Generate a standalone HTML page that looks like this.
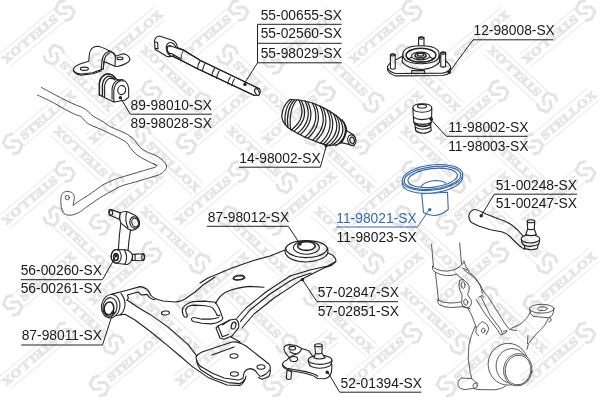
<!DOCTYPE html>
<html><head><meta charset="utf-8"><title>diagram</title>
<style>
html,body{margin:0;padding:0;background:#fff}
svg{display:block}
.wm path{fill:none;stroke:#e9e9e9;stroke-width:1}
.wm path.lg{stroke:#e4e4e4;stroke-width:3;stroke-linejoin:miter}
.wm text{font-family:"Liberation Serif",serif;font-weight:bold;font-size:11.5px;fill:#e5e5e5;stroke:#e5e5e5;stroke-width:.9;stroke-linejoin:round;letter-spacing:0}
.p *{vector-effect:non-scaling-stroke}
.p{fill:none;stroke:#222;stroke-width:1.1;stroke-linecap:round;stroke-linejoin:round}
.p .w{fill:#fff}
.p .t{stroke:#333;stroke-width:.85}
.p .k{stroke:#3c3c3c;stroke-width:.85}
.ld{fill:none;stroke:#222;stroke-width:1}
.bl{stroke:#356bb3}
.lab text{font-family:"Liberation Sans",sans-serif;font-size:13.8px;fill:#1a1a1a}
.lab text.b{fill:#356bb3}
</style></head><body>
<svg width="600" height="400" viewBox="0 0 600 400">
<rect width="600" height="400" fill="#fff"/>
<g class="p">
<!-- stab bar: image coords -->
<g class="t">
<path d="M41.4 87.5C43.9 88.8 50.9 92.6 56.2 95.4C61.6 98.2 69.4 102.1 73.8 104.1C78.1 106.1 80.2 106.4 82.5 107.6C84.8 108.8 86.3 109.9 87.8 111.1C89.2 112.3 89.8 113.4 91.2 114.6C92.7 115.8 94.5 116.9 96.5 118.1C98.5 119.3 101.1 120.5 103.5 122.0C105.9 123.5 107.4 125.2 111.0 127.0C114.6 128.8 121.2 131.1 125.0 133.1C128.8 135.1 131.4 137.1 133.8 139.2C136.1 141.4 137.0 144.2 139.0 146.2C141.0 148.3 143.1 149.9 146.0 151.5C148.9 153.1 153.6 154.3 156.5 155.9C159.4 157.5 161.8 159.4 163.5 161.1C165.2 162.8 166.3 164.4 166.5 166.0C166.7 167.6 165.9 169.2 164.7 170.7C163.5 172.1 162.0 173.5 159.3 174.7C156.6 175.9 152.7 176.8 148.7 178.0C144.7 179.2 139.8 180.7 135.3 182.0C130.9 183.3 125.6 184.5 122.0 185.8C118.4 187.1 117.3 188.0 113.7 190.0C110.1 192.0 104.8 194.8 100.3 197.6C95.8 200.4 90.5 204.3 86.9 206.8C83.3 209.3 81.3 211.3 78.5 212.7C75.7 214.1 72.5 215.1 70.1 215.2C67.7 215.3 65.7 214.8 64.2 213.5C62.8 212.2 62.0 210.1 61.4 207.6C60.8 205.1 60.7 200.8 60.9 198.4C61.1 196.0 61.6 194.6 62.6 193.4C63.6 192.2 65.3 191.5 66.8 191.4C68.3 191.3 70.5 191.7 71.8 192.6C73.0 193.5 74.1 194.7 74.3 196.8C74.5 198.9 73.3 203.7 73.1 205.1"/>
<path d="M37.4 95.0C39.6 96.1 46.4 99.1 51.0 101.5C55.6 103.9 60.9 107.2 65.0 109.4C69.1 111.6 72.9 113.4 75.5 114.6C78.1 115.8 79.3 115.5 80.8 116.4C82.2 117.3 83.1 118.7 84.2 119.9C85.4 121.1 86.3 122.4 87.8 123.4C89.2 124.4 90.3 124.8 93.0 126.0C95.7 127.2 99.8 128.9 104.0 130.8C108.2 132.7 114.2 135.5 118.0 137.5C121.8 139.5 124.6 140.8 126.8 142.8C128.9 144.7 129.3 146.9 131.1 148.9C132.8 150.9 134.8 153.1 137.2 155.0C139.7 156.9 143.1 158.7 146.0 160.2C148.9 161.8 153.1 163.6 154.8 164.6C156.4 165.6 156.0 166.0 156.2 166.3"/>
<path d="M155.3 167.2C153.3 167.8 147.5 169.4 143.3 170.7C139.1 171.9 134.4 173.4 130.0 174.7C125.6 176.0 120.7 177.3 116.7 178.7C112.7 180.1 108.7 182.0 106.0 183.3C103.3 184.6 103.2 184.7 100.3 186.7C97.4 188.7 92.0 192.7 88.5 195.1C85.0 197.5 81.8 199.2 79.3 200.9C76.8 202.6 74.5 204.4 73.5 205.1"/>
<path d="M153.5 163.6L157.2 165.6"/>
<ellipse cx="67.300" cy="197.600" rx="2" ry="2.300"/>
</g>
<!-- bracket: view [65,40] k=.125 -->
<g transform="translate(65 40) scale(.125)">
<path class="w" d="M290 237L220 262L130 272Q80 270 66 240Q68 212 120 192L190 170L196 108Q205 55 255 50Q290 52 345 82Q395 100 403 130L465 110Q515 118 520 158Q505 192 420 212L400 210L312 172L306 232Z"/>
<path d="M290 237L296 165Q305 105 350 92Q398 95 403 132L400 210"/>
<path d="M306 232L312 170Q322 118 356 104"/>
<path d="M70 250Q88 278 132 281L224 270L292 246"/>
<ellipse cx="155" cy="230" rx="32" ry="13"/><ellipse cx="440" cy="147" rx="24" ry="11"/>
</g>
<!-- bushing: view [95,70] k=.0875 -->
<g transform="translate(95 70) scale(.0875)">
<path class="w" d="M50 285L50 150Q58 70 140 42Q205 45 240 102Q262 112 290 122L340 124Q378 150 385 220L385 310L340 346L215 366L90 306Z"/>
<path d="M85 300L85 165Q95 95 150 70Q200 72 226 112" style="stroke-width:1.4"/>
<path d="M50 285L50 150Q58 70 140 42Q205 45 240 102" style="stroke-width:1.4"/>
<path d="M110 308L110 180Q120 118 162 96Q200 94 222 104"/>
<path d="M195 332L195 215Q205 140 262 114Q300 106 322 112"/>
<path d="M215 366L215 235Q225 150 288 124"/>
<ellipse cx="305" cy="230" rx="45" ry="52" transform="rotate(8 305 230)"/>
<circle cx="290" cy="316" r="19" fill="#222" stroke="none"/>
</g>
<!-- tie rod: view [150,25] k=.2 -->
<g transform="translate(150 25) scale(.2)">
<path class="w" d="M110 104L165 124L250 176L548 320Q556 335 545 350L522 352L235 217L150 174L100 150Z"/>
<path d="M110 104L165 124L250 176L545 318M100 150L150 174L235 217L522 352"/>
<ellipse class="w" cx="535" cy="335" rx="10" ry="18" transform="rotate(-25 535 335)"/>
<path d="M167 126Q152 150 154 176M252 178Q238 196 238 217M276 191Q264 210 262 230M322 218Q310 237 309 254M346 230Q334 250 333 267M402 260Q390 278 389 294M422 270Q410 288 410 304"/>
<circle cx="475" cy="297" r="8.5" fill="#222" stroke="none"/>
</g>
<!-- tie rod head: view [150,30] k=.1 -->
<g transform="translate(150 30) scale(.1)">
<path class="w" d="M95 60Q50 70 45 108L50 188Q55 205 85 212L165 262Q215 278 262 240Q290 190 262 135Q245 110 230 105Z"/>
<ellipse cx="215" cy="195" rx="50" ry="72" transform="rotate(-20 215 195)"/>
<ellipse class="w" cx="199" cy="197" rx="27" ry="40" transform="rotate(-15 199 197)" style="stroke-width:1.4"/>
<path d="M55 120L76 125L80 190L55 184"/>
<path class="w" d="M215 163L330 203L300 285L215 236Q190 200 215 163Z" style="stroke:none"/>
<path d="M215 163L330 203M215 236L300 285"/>
</g>
<!-- boot: view [275,92] k=.15 -->
<g transform="translate(275 92) scale(.15)" style="stroke-width:1.2">
<path class="w" d="M100 50Q200 48 300 94Q400 140 460 204Q478 228 478 258L520 283Q552 320 525 357L445 338Q400 362 340 353Q200 312 90 240Q45 200 45 160Q50 90 100 50Z"/>
<path d="M114 51Q56 110 68 218M130 52Q72 112 86 236M146 53Q90 116 104 250"/>
<path d="M158 52Q220 168 108 255M176 60Q236 173 128 261M200 58Q262 182 150 277M218 66Q278 187 170 283M250 73Q312 202 200 301M268 81Q328 207 220 307M300 94Q362 223 250 323M318 102Q378 228 270 329M345 118Q407 245 300 343M363 126Q423 250 320 349M390 147Q452 265 340 353M408 155Q468 270 360 359M430 177Q492 280 385 353M448 185Q508 285 405 359"/>
<path d="M460 204Q492 262 440 336M478 258Q470 300 445 338"/>
<ellipse class="w" cx="512" cy="321" rx="27" ry="36" transform="rotate(-12 512 321)"/>
<ellipse cx="514" cy="322" rx="15" ry="22" transform="rotate(-12 514 322)"/>
<circle cx="341" cy="358" r="11" fill="#222" stroke="none"/>
</g>
<!-- strut mount: view [385,32] k=.12 -->
<g transform="translate(385 32) scale(.12)">
<path class="w" d="M20 292Q30 262 75 240L150 200L450 200L500 238Q545 270 548 300Q548 335 520 352L480 362L90 366Q35 352 22 318Z"/>
<path d="M22 300Q35 335 92 346L480 343Q530 335 546 298"/>
<path class="w" d="M222 322H330V345H222Z"/>
<path class="w" d="M45 305V190Q65 176 85 190V305Q65 316 45 305Z"/><ellipse cx="65" cy="190" rx="20" ry="9"/>
<path class="w" d="M280 120V50Q302 36 325 50V120Z"/><ellipse cx="302.500" cy="50" rx="22.500" ry="9"/>
<path class="w" d="M465 288V175Q485 162 505 175V288Q485 298 465 288Z"/><ellipse cx="485" cy="175" rx="20" ry="9"/>
<path class="w" d="M148 190Q150 115 300 115Q452 115 452 190L455 252Q400 312 300 312Q200 312 142 252Z"/>
<path d="M148 190Q152 262 300 265Q450 262 452 190"/>
<ellipse cx="300" cy="193" rx="124" ry="58" style="stroke-width:1.5"/>
<path d="M188 215Q215 252 300 252Q385 252 410 215"/>
<ellipse cx="296" cy="200" rx="76" ry="32"/>
<ellipse cx="296" cy="194" rx="46" ry="18"/>
<ellipse cx="296" cy="190" rx="29" ry="11"/>
<path d="M250 196V206Q270 226 296 226Q325 226 342 206V196M192 226L224 208M400 222L370 206"/>
<circle cx="535" cy="336" r="14.2" fill="#222" stroke="none"/>
</g>
<!-- bump stop: view [405,98] k=.1 -->
<g transform="translate(405 98) scale(.1)">
<path class="w" d="M78 100Q80 58 170 58Q266 58 268 100L266 192L262 245L256 262L258 292L262 325Q230 352 180 352Q130 350 106 325L103 292L100 262L88 245L84 192Z"/>
<path d="M78 100Q85 140 170 142Q262 140 268 100"/>
<ellipse cx="170" cy="82" rx="45" ry="18"/>
<path d="M84 192Q120 216 170 216Q230 214 266 192M88 245Q120 264 172 264Q235 262 262 243M103 292Q135 312 178 312Q232 310 258 292"/>
<path d="M100 262Q130 284 175 284Q230 282 256 262" style="stroke-width:1.6"/>
<circle cx="263" cy="212" r="17.0" fill="#222" stroke="none"/>
</g>
<!-- spring seat: view [395,160] k=.15 -->
<g transform="translate(395 160) scale(.15)" style="stroke:#3468b0">
<path class="w" d="M178 225L190 350Q270 398 355 330L350 215Z"/>
<ellipse class="w" cx="250" cy="135" rx="203" ry="84" transform="rotate(-7 250 135)"/>
<ellipse class="w" cx="250" cy="117" rx="203" ry="84" transform="rotate(-7 250 117)"/>
<ellipse cx="250" cy="119" rx="190" ry="74" transform="rotate(-7 250 119)"/>
<ellipse cx="251" cy="119" rx="166" ry="62" transform="rotate(-7 251 119)"/>
<path d="M172 178Q195 145 270 137Q320 138 338 155"/>
<circle cx="232" cy="331" r="11.3" fill="#3468b0" stroke="none"/>
</g>
<!-- tie rod end: view [465,205] k=.15 -->
<g transform="translate(465 205) scale(.15)">
<path class="w" d="M60 30Q80 28 140 60L230 95Q300 115 350 165L385 205L400 296L380 285Q350 262 300 210Q280 190 250 180L170 165L90 140L40 115Q18 85 30 55Q40 35 60 30Z"/>
<path class="w" d="M376 236Q380 262 395 268L400 290Q440 306 482 290L488 264Q498 255 498 232Z"/>
<path d="M395 268Q440 285 488 264"/>
<ellipse class="w" cx="436" cy="226" rx="62" ry="27"/>
<path class="w" d="M415 110L418 160Q412 180 404 196Q440 212 476 196Q468 180 462 160L465 110Z"/>
<ellipse class="w" cx="440" cy="108" rx="25" ry="10"/>
<path d="M418 160Q440 168 462 160"/>
<circle cx="108" cy="72" r="11.3" fill="#222" stroke="none"/>
</g>
<!-- stab link: view [100,205] k=.1625 -->
<g transform="translate(100 205) scale(.1625)">
<path class="w" d="M66 27L128 50L118 88L58 62Q52 40 66 27Z"/>
<ellipse cx="66" cy="45" rx="11" ry="18" transform="rotate(-20 66 45)"/>
<path class="w" d="M200 304L266 300Q278 320 268 340L200 342Z"/>
<ellipse cx="266" cy="320" rx="9" ry="20"/>
<path d="M216 303V341"/>
<path class="w" d="M130 100L120 180L113 275L172 290L177 230L188 150Z"/>
<path class="w" d="M125 50Q145 36 170 42L218 64Q245 85 243 122Q232 152 195 156Q170 150 160 138L128 110Q115 80 125 50Z"/>
<ellipse cx="213" cy="108" rx="29" ry="36" transform="rotate(-15 213 108)"/>
<ellipse cx="216" cy="108" rx="20" ry="27" transform="rotate(-15 216 108)"/>
<path d="M165 44Q150 90 172 140"/>
<path class="w" d="M100 274L160 275Q196 285 200 312Q200 350 170 366L108 360Q68 350 68 315Q72 280 100 274Z"/>
<ellipse cx="100" cy="316" rx="31" ry="42"/>
<ellipse cx="98" cy="320" rx="14" ry="22" style="stroke-width:1.6"/>
<path d="M150 276Q176 320 152 364"/>
<circle cx="99" cy="312" r="9" fill="#222" stroke="none"/>
</g>
<!-- control arm front: view [95,275] k=.2 -->
<g transform="translate(95 275) scale(.2)">
<path d="M80 97L160 76L225 58Q262 60 278 100Q290 118 340 130L400 135Q430 132 450 120L500 85L540 50L600 10"/>
<path d="M160 127L167 115L162 100L215 85L232 100L260 97L272 112"/>
<path d="M130 92Q152 120 150 150Q146 185 125 200L150 196L200 225L275 281L362 352L425 405"/>
<path d="M85 205L125 200"/>
<path d="M162 126L220 165L275 197L362 258L425 312"/>
<path d="M272 112Q288 124 300 124"/>
<ellipse class="w" cx="78.5" cy="156" rx="46" ry="59" transform="rotate(8 78.5 156)"/>
<ellipse cx="75" cy="160" rx="35" ry="47" transform="rotate(8 75 160)"/>
<ellipse cx="70" cy="167" rx="24" ry="32" transform="rotate(8 70 167)" style="stroke-width:1.6"/>
<ellipse cx="352" cy="190" rx="20" ry="10" transform="rotate(-5 352 190)"/>
<circle cx="90" cy="187" r="8.5" fill="#222" stroke="none"/>
</g>
<!-- control arm middle: view [170,270] k=.2 -->
<g transform="translate(170 270) scale(.2)">
<ellipse cx="345" cy="40" rx="30" ry="10" transform="rotate(-5 345 40)"/>
<path d="M228 168Q245 130 280 110Q330 88 400 82L470 86"/>
<path d="M600 30L480 110L380 190L335 240M600 55L500 120L400 200L352 258M600 88L520 140L420 220L360 290"/>
<path class="w" d="M300 250L330 245Q348 262 343 288L310 330L270 346L250 340L230 290L240 280Z"/>
<ellipse cx="318" cy="278" rx="11" ry="18" transform="rotate(15 318 278)"/>
<path d="M240 280L262 334L292 322M300 250L262 275"/>
</g>
<!-- control arm rear: view [240,240] k=.2 -->
<g transform="translate(240 240) scale(.2)">
<path d="M232 48L150 80L60 105L-40 140L-160 190L-200 215"/>
<path d="M440 65Q478 78 480 105Q472 125 425 137"/>
<path d="M460 125L350 150L250 180M355 165L280 190L250 205M478 108L420 140L320 190L250 238"/>
<path class="w" d="M225 55Q228 5 330 3Q438 5 440 55Q440 100 330 110Q230 105 225 55Z"/>
<path d="M226 40Q240 85 330 88Q425 85 439 40"/>
<ellipse cx="332" cy="38" rx="65" ry="33"/>
<ellipse cx="332" cy="30" rx="44" ry="22" style="stroke-width:1.6"/>
<ellipse cx="-5" cy="187" rx="26" ry="11" transform="rotate(-8 -5 187)"/>
<path d="M0 240L60 235L112 229" style="stroke:none"/>
<circle cx="312" cy="198" r="8.5" fill="#222" stroke="none"/>
<circle cx="300" cy="20" r="8.5" fill="#222" stroke="none"/>
</g>
<!-- control arm plate: view [180,320] k=.2 -->
<g transform="translate(180 320) scale(.2)">
<path d="M0 88L40 122L85 182"/>
<path d="M0 180L60 232L140 287L235 325L300 327Q325 315 330 280"/>
<path class="w" d="M80 185Q90 168 110 160L200 130L260 110Q290 105 330 130L400 185L445 220Q455 235 450 248L430 270Q410 285 398 280L385 265Q375 245 350 243Q325 248 320 266L315 290Q305 300 290 300L220 290L160 265L100 230Q82 210 80 185Z"/>
<path d="M82 200Q88 232 105 250L170 290L240 313L300 318Q318 312 322 296M452 250Q452 275 440 285L410 296L392 288"/>
<ellipse cx="270" cy="180" rx="20" ry="11"/><ellipse cx="405" cy="235" rx="20" ry="11"/><ellipse cx="272" cy="270" rx="20" ry="11"/>
<path d="M160 175L270 135"/>
<path d="M255 85L300 110"/>
</g>
<!-- c-clip: view [175,290] k=.11667 -->
<g transform="translate(175 290) scale(.11667)">
<path d="M345 105L250 95L150 100Q95 115 70 150Q55 180 70 215Q82 240 100 232Q112 222 98 200Q82 165 110 142Q140 130 170 130L260 135Q305 140 325 155Q345 180 360 215"/>
<path d="M360 215Q380 225 385 215M140 246Q150 232 165 236L230 250L300 250Q345 246 372 235M140 246Q140 262 158 270L230 285L310 290Q355 285 382 270Q405 258 410 245L395 200L375 150L345 105"/>
</g>
<!-- ball joint: view [275,335] k=.15 -->
<g transform="translate(275 335) scale(.15)">
<path class="w" d="M80 235L75 290Q90 300 106 294L110 245Z"/>
<path class="w" d="M60 80Q70 66 95 64L140 70L178 90L225 105L250 140L380 200L376 250Q365 285 330 292L282 290Q260 272 250 270L200 255L120 240L70 225Q48 210 50 195Q52 178 80 166L95 150L72 122Q55 100 60 80Z"/>
<path d="M52 200Q60 215 80 222L125 230L205 244L255 258Q270 262 285 275"/>
<ellipse cx="115" cy="88" rx="22" ry="12"/>
<ellipse cx="125" cy="160" rx="26" ry="17"/>
<path d="M96 150Q110 138 135 130Q165 122 178 92M100 112Q120 128 140 124"/>
<path class="w" d="M222 170Q225 200 240 210Q300 235 365 206Q380 195 380 170Z"/>
<ellipse class="w" cx="300" cy="166" rx="79" ry="30"/>
<path class="w" d="M265 70L270 122Q265 140 258 152Q295 168 335 152Q322 138 312 122L315 70Z"/>
<ellipse class="w" cx="290" cy="68" rx="25" ry="10"/>
<path d="M270 122Q290 130 312 122"/>
<circle cx="348" cy="248" r="11.3" fill="#222" stroke="none"/>
</g>
<!-- knuckle top: view [425,240] k=.1875 -->
<g transform="translate(425 240) scale(.1875)" class="k">
<path d="M35 25L45 140M185 15L195 130"/>
<path d="M40 140Q60 165 115 166Q170 162 196 132Q212 120 208 112"/>
<path d="M40 140Q38 160 48 168Q80 188 115 190Q145 190 166 184"/>
<path d="M56 176L64 250L72 320"/>
<path d="M70 320Q95 336 135 336Q170 336 192 330"/>
<path d="M68 322Q66 340 78 346Q105 360 140 360L200 356L240 366"/>
<path d="M165 180L196 206L208 214"/>
<path d="M208 114L218 142L232 160M200 150L228 160"/>
</g>
<!-- knuckle middle: view [450,270] k=.175 -->
<g transform="translate(450 270) scale(.175)" class="k">
<path d="M80 0L130 35L170 80L190 120L215 150L260 220L310 300L340 340L380 346"/>
<path d="M100 0L150 50L175 95L185 135"/>
<path d="M165 155L185 145L190 156M176 150L230 260L290 340L300 365M150 170L200 250L270 340L290 372L322 356L326 345L305 351"/>
<path d="M55 60Q62 52 75 56L100 75Q112 92 110 110L100 140L120 170Q126 188 120 200Q112 214 100 215L70 206"/>
<path d="M55 62Q45 90 58 120Q75 140 68 165Q62 190 72 206"/>
<ellipse cx="75" cy="86" rx="11" ry="19" transform="rotate(-8 75 86)"/>
<ellipse cx="90" cy="184" rx="12" ry="17" transform="rotate(-8 90 184)"/>
<path d="M100 215L120 250L140 300L150 330"/>
<path d="M150 330L175 302L186 295L210 310Q222 325 220 342L206 370M150 330L148 360L165 376"/>
<ellipse cx="190" cy="346" rx="10" ry="14" transform="rotate(15 190 346)"/>
</g>
<!-- knuckle lower: view [440,290] k=.275 -->
<g transform="translate(440 290) scale(.275)" class="k">
<path d="M128 132Q112 165 105 200Q98 250 110 300L116 322L78 320Q62 330 66 348Q72 362 90 362L122 358L138 362L200 363Q225 360 238 350"/>
<path d="M116 322Q125 335 138 340"/>
<ellipse cx="128" cy="348" rx="8" ry="9"/>
<path d="M258 140L290 126Q315 105 322 92L330 76"/>
<ellipse class="w" cx="370" cy="68" rx="45" ry="16"/>
<ellipse cx="372" cy="68" rx="18" ry="7"/>
<path d="M326 72Q328 90 338 96L395 101Q412 96 414 72"/>
<path d="M395 101L380 130L350 160L322 195L316 216M400 99L405 110L396 116M320 165L318 195"/>
<ellipse cx="248" cy="270" rx="73" ry="76"/>
<ellipse cx="262" cy="276" rx="58" ry="63"/>
<ellipse class="w" cx="283" cy="290" rx="52" ry="59" transform="rotate(8 283 290)"/>
<ellipse cx="284" cy="291" rx="47" ry="54" transform="rotate(8 284 291)"/>
</g>
</g>
<g class="ld">
<path d="M257.5 24.3H341.7M257.5 43.3H341.7M257.5 62.8H341.7M257.5 24.3V62.8L243.8 84.4"/>
<path d="M553.3 39.8H473L449.2 72.3"/>
<path d="M211.7 114.2H130.3L120.8 98.3"/>
<path d="M239 167.2H320.3L326.2 146.5"/>
<path d="M527.5 136.3H446.3L431.4 120"/>
<path d="M577 194.2H494.2L481.2 215.8"/>
<path d="M207 226.3H288.3L300 244"/>
<path d="M398 301.7H317L302.4 279.6"/>
<path d="M20.8 279.7H102.5L116 256"/>
<path d="M21.3 345H102.5L113 312.5"/>
<path d="M421.3 392.2H339.7L327.5 371.7"/>
<path class="bl" d="M336.3 227H417.5L429 209.8"/>
</g>

<g class="wm" style="mix-blend-mode:multiply"><g transform="translate(66.5 12.3) rotate(140.0)"><path class="lg" d="M7 -5.1L1 -7.9L-6.5 -4.6L-6.5 1.6L0 6.2M-7 9.9L-1 12.7L6.5 9.4L6.5 3.2L0 -1.4"/><path d="M8.6 -5.5H78.5M7 11H78.5"/><text transform="scale(1.27 1)" x="8.7" y="6.8">STELLOX</text></g>
<g transform="translate(240.0 12.3) rotate(140.0)"><path class="lg" d="M7 -5.1L1 -7.9L-6.5 -4.6L-6.5 1.6L0 6.2M-7 9.9L-1 12.7L6.5 9.4L6.5 3.2L0 -1.4"/><path d="M8.6 -5.5H78.5M7 11H78.5"/><text transform="scale(1.27 1)" x="8.7" y="6.8">STELLOX</text></g>
<g transform="translate(413.5 12.3) rotate(140.0)"><path class="lg" d="M7 -5.1L1 -7.9L-6.5 -4.6L-6.5 1.6L0 6.2M-7 9.9L-1 12.7L6.5 9.4L6.5 3.2L0 -1.4"/><path d="M8.6 -5.5H78.5M7 11H78.5"/><text transform="scale(1.27 1)" x="8.7" y="6.8">STELLOX</text></g>
<g transform="translate(587.0 12.3) rotate(140.0)"><path class="lg" d="M7 -5.1L1 -7.9L-6.5 -4.6L-6.5 1.6L0 6.2M-7 9.9L-1 12.7L6.5 9.4L6.5 3.2L0 -1.4"/><path d="M8.6 -5.5H78.5M7 11H78.5"/><text transform="scale(1.27 1)" x="8.7" y="6.8">STELLOX</text></g>
<g transform="translate(153.2 92.9) rotate(140.0)"><path class="lg" d="M7 -5.1L1 -7.9L-6.5 -4.6L-6.5 1.6L0 6.2M-7 9.9L-1 12.7L6.5 9.4L6.5 3.2L0 -1.4"/><path d="M8.6 -5.5H78.5M7 11H78.5"/><text transform="scale(1.27 1)" x="8.7" y="6.8">STELLOX</text></g>
<g transform="translate(326.8 92.9) rotate(140.0)"><path class="lg" d="M7 -5.1L1 -7.9L-6.5 -4.6L-6.5 1.6L0 6.2M-7 9.9L-1 12.7L6.5 9.4L6.5 3.2L0 -1.4"/><path d="M8.6 -5.5H78.5M7 11H78.5"/><text transform="scale(1.27 1)" x="8.7" y="6.8">STELLOX</text></g>
<g transform="translate(500.2 92.9) rotate(140.0)"><path class="lg" d="M7 -5.1L1 -7.9L-6.5 -4.6L-6.5 1.6L0 6.2M-7 9.9L-1 12.7L6.5 9.4L6.5 3.2L0 -1.4"/><path d="M8.6 -5.5H78.5M7 11H78.5"/><text transform="scale(1.27 1)" x="8.7" y="6.8">STELLOX</text></g>
<g transform="translate(66.5 173.5) rotate(140.0)"><path class="lg" d="M7 -5.1L1 -7.9L-6.5 -4.6L-6.5 1.6L0 6.2M-7 9.9L-1 12.7L6.5 9.4L6.5 3.2L0 -1.4"/><path d="M8.6 -5.5H78.5M7 11H78.5"/><text transform="scale(1.27 1)" x="8.7" y="6.8">STELLOX</text></g>
<g transform="translate(240.0 173.5) rotate(140.0)"><path class="lg" d="M7 -5.1L1 -7.9L-6.5 -4.6L-6.5 1.6L0 6.2M-7 9.9L-1 12.7L6.5 9.4L6.5 3.2L0 -1.4"/><path d="M8.6 -5.5H78.5M7 11H78.5"/><text transform="scale(1.27 1)" x="8.7" y="6.8">STELLOX</text></g>
<g transform="translate(413.5 173.5) rotate(140.0)"><path class="lg" d="M7 -5.1L1 -7.9L-6.5 -4.6L-6.5 1.6L0 6.2M-7 9.9L-1 12.7L6.5 9.4L6.5 3.2L0 -1.4"/><path d="M8.6 -5.5H78.5M7 11H78.5"/><text transform="scale(1.27 1)" x="8.7" y="6.8">STELLOX</text></g>
<g transform="translate(587.0 173.5) rotate(140.0)"><path class="lg" d="M7 -5.1L1 -7.9L-6.5 -4.6L-6.5 1.6L0 6.2M-7 9.9L-1 12.7L6.5 9.4L6.5 3.2L0 -1.4"/><path d="M8.6 -5.5H78.5M7 11H78.5"/><text transform="scale(1.27 1)" x="8.7" y="6.8">STELLOX</text></g>
<g transform="translate(153.2 254.1) rotate(140.0)"><path class="lg" d="M7 -5.1L1 -7.9L-6.5 -4.6L-6.5 1.6L0 6.2M-7 9.9L-1 12.7L6.5 9.4L6.5 3.2L0 -1.4"/><path d="M8.6 -5.5H78.5M7 11H78.5"/><text transform="scale(1.27 1)" x="8.7" y="6.8">STELLOX</text></g>
<g transform="translate(326.8 254.1) rotate(140.0)"><path class="lg" d="M7 -5.1L1 -7.9L-6.5 -4.6L-6.5 1.6L0 6.2M-7 9.9L-1 12.7L6.5 9.4L6.5 3.2L0 -1.4"/><path d="M8.6 -5.5H78.5M7 11H78.5"/><text transform="scale(1.27 1)" x="8.7" y="6.8">STELLOX</text></g>
<g transform="translate(500.2 254.1) rotate(140.0)"><path class="lg" d="M7 -5.1L1 -7.9L-6.5 -4.6L-6.5 1.6L0 6.2M-7 9.9L-1 12.7L6.5 9.4L6.5 3.2L0 -1.4"/><path d="M8.6 -5.5H78.5M7 11H78.5"/><text transform="scale(1.27 1)" x="8.7" y="6.8">STELLOX</text></g>
<g transform="translate(66.5 334.7) rotate(140.0)"><path class="lg" d="M7 -5.1L1 -7.9L-6.5 -4.6L-6.5 1.6L0 6.2M-7 9.9L-1 12.7L6.5 9.4L6.5 3.2L0 -1.4"/><path d="M8.6 -5.5H78.5M7 11H78.5"/><text transform="scale(1.27 1)" x="8.7" y="6.8">STELLOX</text></g>
<g transform="translate(240.0 334.7) rotate(140.0)"><path class="lg" d="M7 -5.1L1 -7.9L-6.5 -4.6L-6.5 1.6L0 6.2M-7 9.9L-1 12.7L6.5 9.4L6.5 3.2L0 -1.4"/><path d="M8.6 -5.5H78.5M7 11H78.5"/><text transform="scale(1.27 1)" x="8.7" y="6.8">STELLOX</text></g>
<g transform="translate(413.5 334.7) rotate(140.0)"><path class="lg" d="M7 -5.1L1 -7.9L-6.5 -4.6L-6.5 1.6L0 6.2M-7 9.9L-1 12.7L6.5 9.4L6.5 3.2L0 -1.4"/><path d="M8.6 -5.5H78.5M7 11H78.5"/><text transform="scale(1.27 1)" x="8.7" y="6.8">STELLOX</text></g>
<g transform="translate(587.0 334.7) rotate(140.0)"><path class="lg" d="M7 -5.1L1 -7.9L-6.5 -4.6L-6.5 1.6L0 6.2M-7 9.9L-1 12.7L6.5 9.4L6.5 3.2L0 -1.4"/><path d="M8.6 -5.5H78.5M7 11H78.5"/><text transform="scale(1.27 1)" x="8.7" y="6.8">STELLOX</text></g>
<g transform="translate(97.9 61.6) rotate(-40.0)"><path class="lg" d="M7 -5.1L1 -7.9L-6.5 -4.6L-6.5 1.6L0 6.2M-7 9.9L-1 12.7L6.5 9.4L6.5 3.2L0 -1.4"/><path d="M8.6 -5.5H78.5M7 11H78.5"/><text transform="scale(1.27 1)" x="8.7" y="6.8">STELLOX</text></g>
<g transform="translate(271.4 61.6) rotate(-40.0)"><path class="lg" d="M7 -5.1L1 -7.9L-6.5 -4.6L-6.5 1.6L0 6.2M-7 9.9L-1 12.7L6.5 9.4L6.5 3.2L0 -1.4"/><path d="M8.6 -5.5H78.5M7 11H78.5"/><text transform="scale(1.27 1)" x="8.7" y="6.8">STELLOX</text></g>
<g transform="translate(445.0 61.6) rotate(-40.0)"><path class="lg" d="M7 -5.1L1 -7.9L-6.5 -4.6L-6.5 1.6L0 6.2M-7 9.9L-1 12.7L6.5 9.4L6.5 3.2L0 -1.4"/><path d="M8.6 -5.5H78.5M7 11H78.5"/><text transform="scale(1.27 1)" x="8.7" y="6.8">STELLOX</text></g>
<g transform="translate(11.2 142.2) rotate(-40.0)"><path class="lg" d="M7 -5.1L1 -7.9L-6.5 -4.6L-6.5 1.6L0 6.2M-7 9.9L-1 12.7L6.5 9.4L6.5 3.2L0 -1.4"/><path d="M8.6 -5.5H78.5M7 11H78.5"/><text transform="scale(1.27 1)" x="8.7" y="6.8">STELLOX</text></g>
<g transform="translate(184.7 142.2) rotate(-40.0)"><path class="lg" d="M7 -5.1L1 -7.9L-6.5 -4.6L-6.5 1.6L0 6.2M-7 9.9L-1 12.7L6.5 9.4L6.5 3.2L0 -1.4"/><path d="M8.6 -5.5H78.5M7 11H78.5"/><text transform="scale(1.27 1)" x="8.7" y="6.8">STELLOX</text></g>
<g transform="translate(358.2 142.2) rotate(-40.0)"><path class="lg" d="M7 -5.1L1 -7.9L-6.5 -4.6L-6.5 1.6L0 6.2M-7 9.9L-1 12.7L6.5 9.4L6.5 3.2L0 -1.4"/><path d="M8.6 -5.5H78.5M7 11H78.5"/><text transform="scale(1.27 1)" x="8.7" y="6.8">STELLOX</text></g>
<g transform="translate(531.7 142.2) rotate(-40.0)"><path class="lg" d="M7 -5.1L1 -7.9L-6.5 -4.6L-6.5 1.6L0 6.2M-7 9.9L-1 12.7L6.5 9.4L6.5 3.2L0 -1.4"/><path d="M8.6 -5.5H78.5M7 11H78.5"/><text transform="scale(1.27 1)" x="8.7" y="6.8">STELLOX</text></g>
<g transform="translate(98.0 222.8) rotate(-40.0)"><path class="lg" d="M7 -5.1L1 -7.9L-6.5 -4.6L-6.5 1.6L0 6.2M-7 9.9L-1 12.7L6.5 9.4L6.5 3.2L0 -1.4"/><path d="M8.6 -5.5H78.5M7 11H78.5"/><text transform="scale(1.27 1)" x="8.7" y="6.8">STELLOX</text></g>
<g transform="translate(271.4 222.8) rotate(-40.0)"><path class="lg" d="M7 -5.1L1 -7.9L-6.5 -4.6L-6.5 1.6L0 6.2M-7 9.9L-1 12.7L6.5 9.4L6.5 3.2L0 -1.4"/><path d="M8.6 -5.5H78.5M7 11H78.5"/><text transform="scale(1.27 1)" x="8.7" y="6.8">STELLOX</text></g>
<g transform="translate(444.9 222.8) rotate(-40.0)"><path class="lg" d="M7 -5.1L1 -7.9L-6.5 -4.6L-6.5 1.6L0 6.2M-7 9.9L-1 12.7L6.5 9.4L6.5 3.2L0 -1.4"/><path d="M8.6 -5.5H78.5M7 11H78.5"/><text transform="scale(1.27 1)" x="8.7" y="6.8">STELLOX</text></g>
<g transform="translate(11.2 303.4) rotate(-40.0)"><path class="lg" d="M7 -5.1L1 -7.9L-6.5 -4.6L-6.5 1.6L0 6.2M-7 9.9L-1 12.7L6.5 9.4L6.5 3.2L0 -1.4"/><path d="M8.6 -5.5H78.5M7 11H78.5"/><text transform="scale(1.27 1)" x="8.7" y="6.8">STELLOX</text></g>
<g transform="translate(184.7 303.4) rotate(-40.0)"><path class="lg" d="M7 -5.1L1 -7.9L-6.5 -4.6L-6.5 1.6L0 6.2M-7 9.9L-1 12.7L6.5 9.4L6.5 3.2L0 -1.4"/><path d="M8.6 -5.5H78.5M7 11H78.5"/><text transform="scale(1.27 1)" x="8.7" y="6.8">STELLOX</text></g>
<g transform="translate(358.2 303.4) rotate(-40.0)"><path class="lg" d="M7 -5.1L1 -7.9L-6.5 -4.6L-6.5 1.6L0 6.2M-7 9.9L-1 12.7L6.5 9.4L6.5 3.2L0 -1.4"/><path d="M8.6 -5.5H78.5M7 11H78.5"/><text transform="scale(1.27 1)" x="8.7" y="6.8">STELLOX</text></g>
<g transform="translate(531.7 303.4) rotate(-40.0)"><path class="lg" d="M7 -5.1L1 -7.9L-6.5 -4.6L-6.5 1.6L0 6.2M-7 9.9L-1 12.7L6.5 9.4L6.5 3.2L0 -1.4"/><path d="M8.6 -5.5H78.5M7 11H78.5"/><text transform="scale(1.27 1)" x="8.7" y="6.8">STELLOX</text></g>
<g transform="translate(97.9 384.0) rotate(-40.0)"><path class="lg" d="M7 -5.1L1 -7.9L-6.5 -4.6L-6.5 1.6L0 6.2M-7 9.9L-1 12.7L6.5 9.4L6.5 3.2L0 -1.4"/><path d="M8.6 -5.5H78.5M7 11H78.5"/><text transform="scale(1.27 1)" x="8.7" y="6.8">STELLOX</text></g>
<g transform="translate(271.4 384.0) rotate(-40.0)"><path class="lg" d="M7 -5.1L1 -7.9L-6.5 -4.6L-6.5 1.6L0 6.2M-7 9.9L-1 12.7L6.5 9.4L6.5 3.2L0 -1.4"/><path d="M8.6 -5.5H78.5M7 11H78.5"/><text transform="scale(1.27 1)" x="8.7" y="6.8">STELLOX</text></g>
<g transform="translate(444.9 384.0) rotate(-40.0)"><path class="lg" d="M7 -5.1L1 -7.9L-6.5 -4.6L-6.5 1.6L0 6.2M-7 9.9L-1 12.7L6.5 9.4L6.5 3.2L0 -1.4"/><path d="M8.6 -5.5H78.5M7 11H78.5"/><text transform="scale(1.27 1)" x="8.7" y="6.8">STELLOX</text></g>
<g transform="translate(55.5 53.0) rotate(43.0)"><path class="lg" d="M7 -5.1L1 -7.9L-6.5 -4.6L-6.5 1.6L0 6.2M-7 9.9L-1 12.7L6.5 9.4L6.5 3.2L0 -1.4"/><path d="M8.6 -5.5H78.5M7 11H78.5"/><text transform="scale(1.27 1)" x="8.7" y="6.8">STELLOX</text></g>
<g transform="translate(229.0 53.0) rotate(43.0)"><path class="lg" d="M7 -5.1L1 -7.9L-6.5 -4.6L-6.5 1.6L0 6.2M-7 9.9L-1 12.7L6.5 9.4L6.5 3.2L0 -1.4"/><path d="M8.6 -5.5H78.5M7 11H78.5"/><text transform="scale(1.27 1)" x="8.7" y="6.8">STELLOX</text></g>
<g transform="translate(402.5 53.0) rotate(43.0)"><path class="lg" d="M7 -5.1L1 -7.9L-6.5 -4.6L-6.5 1.6L0 6.2M-7 9.9L-1 12.7L6.5 9.4L6.5 3.2L0 -1.4"/><path d="M8.6 -5.5H78.5M7 11H78.5"/><text transform="scale(1.27 1)" x="8.7" y="6.8">STELLOX</text></g>
<g transform="translate(142.2 133.6) rotate(43.0)"><path class="lg" d="M7 -5.1L1 -7.9L-6.5 -4.6L-6.5 1.6L0 6.2M-7 9.9L-1 12.7L6.5 9.4L6.5 3.2L0 -1.4"/><path d="M8.6 -5.5H78.5M7 11H78.5"/><text transform="scale(1.27 1)" x="8.7" y="6.8">STELLOX</text></g>
<g transform="translate(315.8 133.6) rotate(43.0)"><path class="lg" d="M7 -5.1L1 -7.9L-6.5 -4.6L-6.5 1.6L0 6.2M-7 9.9L-1 12.7L6.5 9.4L6.5 3.2L0 -1.4"/><path d="M8.6 -5.5H78.5M7 11H78.5"/><text transform="scale(1.27 1)" x="8.7" y="6.8">STELLOX</text></g>
<g transform="translate(489.2 133.6) rotate(43.0)"><path class="lg" d="M7 -5.1L1 -7.9L-6.5 -4.6L-6.5 1.6L0 6.2M-7 9.9L-1 12.7L6.5 9.4L6.5 3.2L0 -1.4"/><path d="M8.6 -5.5H78.5M7 11H78.5"/><text transform="scale(1.27 1)" x="8.7" y="6.8">STELLOX</text></g>
<g transform="translate(55.5 214.2) rotate(43.0)"><path class="lg" d="M7 -5.1L1 -7.9L-6.5 -4.6L-6.5 1.6L0 6.2M-7 9.9L-1 12.7L6.5 9.4L6.5 3.2L0 -1.4"/><path d="M8.6 -5.5H78.5M7 11H78.5"/><text transform="scale(1.27 1)" x="8.7" y="6.8">STELLOX</text></g>
<g transform="translate(229.0 214.2) rotate(43.0)"><path class="lg" d="M7 -5.1L1 -7.9L-6.5 -4.6L-6.5 1.6L0 6.2M-7 9.9L-1 12.7L6.5 9.4L6.5 3.2L0 -1.4"/><path d="M8.6 -5.5H78.5M7 11H78.5"/><text transform="scale(1.27 1)" x="8.7" y="6.8">STELLOX</text></g>
<g transform="translate(402.5 214.2) rotate(43.0)"><path class="lg" d="M7 -5.1L1 -7.9L-6.5 -4.6L-6.5 1.6L0 6.2M-7 9.9L-1 12.7L6.5 9.4L6.5 3.2L0 -1.4"/><path d="M8.6 -5.5H78.5M7 11H78.5"/><text transform="scale(1.27 1)" x="8.7" y="6.8">STELLOX</text></g>
<g transform="translate(142.2 294.8) rotate(43.0)"><path class="lg" d="M7 -5.1L1 -7.9L-6.5 -4.6L-6.5 1.6L0 6.2M-7 9.9L-1 12.7L6.5 9.4L6.5 3.2L0 -1.4"/><path d="M8.6 -5.5H78.5M7 11H78.5"/><text transform="scale(1.27 1)" x="8.7" y="6.8">STELLOX</text></g>
<g transform="translate(315.8 294.8) rotate(43.0)"><path class="lg" d="M7 -5.1L1 -7.9L-6.5 -4.6L-6.5 1.6L0 6.2M-7 9.9L-1 12.7L6.5 9.4L6.5 3.2L0 -1.4"/><path d="M8.6 -5.5H78.5M7 11H78.5"/><text transform="scale(1.27 1)" x="8.7" y="6.8">STELLOX</text></g>
<g transform="translate(489.2 294.8) rotate(43.0)"><path class="lg" d="M7 -5.1L1 -7.9L-6.5 -4.6L-6.5 1.6L0 6.2M-7 9.9L-1 12.7L6.5 9.4L6.5 3.2L0 -1.4"/><path d="M8.6 -5.5H78.5M7 11H78.5"/><text transform="scale(1.27 1)" x="8.7" y="6.8">STELLOX</text></g>
<g transform="translate(198.5 104.2) rotate(223.0)"><path class="lg" d="M7 -5.1L1 -7.9L-6.5 -4.6L-6.5 1.6L0 6.2M-7 9.9L-1 12.7L6.5 9.4L6.5 3.2L0 -1.4"/><path d="M8.6 -5.5H78.5M7 11H78.5"/><text transform="scale(1.27 1)" x="8.7" y="6.8">STELLOX</text></g>
<g transform="translate(372.0 104.2) rotate(223.0)"><path class="lg" d="M7 -5.1L1 -7.9L-6.5 -4.6L-6.5 1.6L0 6.2M-7 9.9L-1 12.7L6.5 9.4L6.5 3.2L0 -1.4"/><path d="M8.6 -5.5H78.5M7 11H78.5"/><text transform="scale(1.27 1)" x="8.7" y="6.8">STELLOX</text></g>
<g transform="translate(545.5 104.2) rotate(223.0)"><path class="lg" d="M7 -5.1L1 -7.9L-6.5 -4.6L-6.5 1.6L0 6.2M-7 9.9L-1 12.7L6.5 9.4L6.5 3.2L0 -1.4"/><path d="M8.6 -5.5H78.5M7 11H78.5"/><text transform="scale(1.27 1)" x="8.7" y="6.8">STELLOX</text></g>
<g transform="translate(111.8 184.8) rotate(223.0)"><path class="lg" d="M7 -5.1L1 -7.9L-6.5 -4.6L-6.5 1.6L0 6.2M-7 9.9L-1 12.7L6.5 9.4L6.5 3.2L0 -1.4"/><path d="M8.6 -5.5H78.5M7 11H78.5"/><text transform="scale(1.27 1)" x="8.7" y="6.8">STELLOX</text></g>
<g transform="translate(285.2 184.8) rotate(223.0)"><path class="lg" d="M7 -5.1L1 -7.9L-6.5 -4.6L-6.5 1.6L0 6.2M-7 9.9L-1 12.7L6.5 9.4L6.5 3.2L0 -1.4"/><path d="M8.6 -5.5H78.5M7 11H78.5"/><text transform="scale(1.27 1)" x="8.7" y="6.8">STELLOX</text></g>
<g transform="translate(458.8 184.8) rotate(223.0)"><path class="lg" d="M7 -5.1L1 -7.9L-6.5 -4.6L-6.5 1.6L0 6.2M-7 9.9L-1 12.7L6.5 9.4L6.5 3.2L0 -1.4"/><path d="M8.6 -5.5H78.5M7 11H78.5"/><text transform="scale(1.27 1)" x="8.7" y="6.8">STELLOX</text></g>
<g transform="translate(198.5 265.4) rotate(223.0)"><path class="lg" d="M7 -5.1L1 -7.9L-6.5 -4.6L-6.5 1.6L0 6.2M-7 9.9L-1 12.7L6.5 9.4L6.5 3.2L0 -1.4"/><path d="M8.6 -5.5H78.5M7 11H78.5"/><text transform="scale(1.27 1)" x="8.7" y="6.8">STELLOX</text></g>
<g transform="translate(372.0 265.4) rotate(223.0)"><path class="lg" d="M7 -5.1L1 -7.9L-6.5 -4.6L-6.5 1.6L0 6.2M-7 9.9L-1 12.7L6.5 9.4L6.5 3.2L0 -1.4"/><path d="M8.6 -5.5H78.5M7 11H78.5"/><text transform="scale(1.27 1)" x="8.7" y="6.8">STELLOX</text></g>
<g transform="translate(545.5 265.4) rotate(223.0)"><path class="lg" d="M7 -5.1L1 -7.9L-6.5 -4.6L-6.5 1.6L0 6.2M-7 9.9L-1 12.7L6.5 9.4L6.5 3.2L0 -1.4"/><path d="M8.6 -5.5H78.5M7 11H78.5"/><text transform="scale(1.27 1)" x="8.7" y="6.8">STELLOX</text></g>
<g transform="translate(111.8 346.0) rotate(223.0)"><path class="lg" d="M7 -5.1L1 -7.9L-6.5 -4.6L-6.5 1.6L0 6.2M-7 9.9L-1 12.7L6.5 9.4L6.5 3.2L0 -1.4"/><path d="M8.6 -5.5H78.5M7 11H78.5"/><text transform="scale(1.27 1)" x="8.7" y="6.8">STELLOX</text></g>
<g transform="translate(285.2 346.0) rotate(223.0)"><path class="lg" d="M7 -5.1L1 -7.9L-6.5 -4.6L-6.5 1.6L0 6.2M-7 9.9L-1 12.7L6.5 9.4L6.5 3.2L0 -1.4"/><path d="M8.6 -5.5H78.5M7 11H78.5"/><text transform="scale(1.27 1)" x="8.7" y="6.8">STELLOX</text></g>
<g transform="translate(458.8 346.0) rotate(223.0)"><path class="lg" d="M7 -5.1L1 -7.9L-6.5 -4.6L-6.5 1.6L0 6.2M-7 9.9L-1 12.7L6.5 9.4L6.5 3.2L0 -1.4"/><path d="M8.6 -5.5H78.5M7 11H78.5"/><text transform="scale(1.27 1)" x="8.7" y="6.8">STELLOX</text></g></g>
<g class="lab"><text x="260.7" y="19.7">55-00655-SX</text><text x="260.7" y="38.3">55-02560-SX</text><text x="260.7" y="57.8">55-98029-SX</text><text x="473.5" y="35.2">12-98008-SX</text><text x="130.6" y="109.5">89-98010-SX</text><text x="130.6" y="128.3">89-98028-SX</text><text x="239.3" y="163.0">14-98002-SX</text><text x="448.2" y="131.7">11-98002-SX</text><text x="448.2" y="150.8">11-98003-SX</text><text x="495.7" y="189.7">51-00248-SX</text><text x="495.7" y="207.8">51-00247-SX</text><text x="336.3" y="222.5" class="b">11-98021-SX</text><text x="336.5" y="241.7">11-98023-SX</text><text x="207.8" y="221.7">87-98012-SX</text><text x="317.7" y="296.7">57-02847-SX</text><text x="317.7" y="315.8">57-02851-SX</text><text x="20.7" y="275.2">56-00260-SX</text><text x="20.7" y="293.3">56-00261-SX</text><text x="21.7" y="340.0">87-98011-SX</text><text x="340.6" y="387.5">52-01394-SX</text></g>
</svg>
</body></html>
